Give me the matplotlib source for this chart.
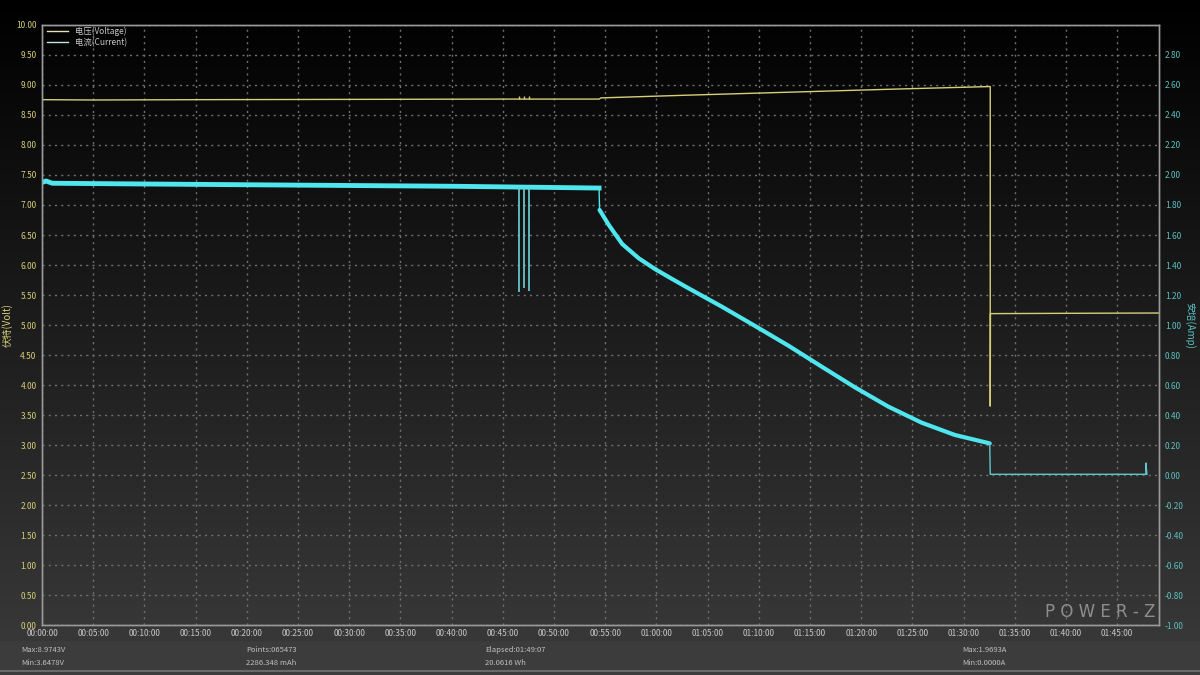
import numpy as np
import matplotlib
matplotlib.use('Agg')
import matplotlib.pyplot as plt
from matplotlib.ticker import FuncFormatter

plt.rcParams['font.family'] = ['Noto Sans CJK SC', 'DejaVu Sans']

# time axis in minutes
# voltage trace (V)
volt_t = [0, 5, 15, 30, 45, 54.4, 54.6, 63, 73, 83, 92.6, 92.6, 92.62, 100, 109.1]
volt_v = [8.755, 8.75, 8.755, 8.76, 8.765, 8.765, 8.785, 8.83, 8.88, 8.93, 8.974, 3.648, 5.19, 5.195, 5.2]
volt_spike_t = [46.6, 47.1, 47.6]
volt_spike_v = [8.81, 8.81, 8.81]

# current trace (A)
curr_t = [0, 0.4, 1, 10, 20, 30, 40, 54.4, 54.45, 55.35, 56.66, 58.29, 59.91, 61.53, 63.16,
          66.4, 69.65, 72.9, 76.15, 79.4, 82.65, 85.9, 89.15, 92.55]
curr_a = [1.95, 1.96, 1.945, 1.94, 1.935, 1.93, 1.925, 1.913, 1.767, 1.667, 1.54, 1.444,
          1.371, 1.307, 1.244, 1.122, 0.993, 0.862, 0.722, 0.584, 0.456, 0.349, 0.267, 0.211]
curr_spike_t = [46.6, 47.1, 47.6]
curr_spike_a = [1.22, 1.25, 1.23]
tail_t = [92.55, 92.6, 107.8, 107.8, 107.9]
tail_a = [0.211, 0.005, 0.005, 0.08, 0.005]

x_ticks = list(range(0, 110, 5))
stats = [
    (0.018, "Max:8.9743V", "Min:3.6478V"),
    (0.205, "Points:065473", "2286.348 mAh"),
    (0.404, "Elapsed:01:49:07", "20.0616 Wh"),
    (0.802, "Max:1.9693A", "Min:0.0000A"),
]

VOLT_C = '#d8cf78'
CURR_C = '#4fe6ee'
AMP_C = '#5cc0c0'
GRID_C = '#707070'


def fmt2(v, p):
    s = "%.2f" % v
    return "0.00" if s == "-0.00" else s


fig = plt.figure(figsize=(12, 6.75), dpi=100)

# background gradient
bg = fig.add_axes([0, 0, 1, 1], zorder=-10)
bg.axis('off')
grad = np.linspace(0.0, 0.215, 256).reshape(-1, 1)
bg.imshow(np.dstack([grad, grad, grad]), aspect='auto', extent=[0, 1, 0.07, 1.0])
bg.axhspan(0, 0.052, color='#3c3c3c')
bg.axhspan(0.052, 0.07, color='#373737')
bg.axhline(0.006, color='#6a6a6a', lw=1.5)
bg.set_xlim(0, 1)
bg.set_ylim(0, 1)

ax = fig.add_axes([0.035, 0.074, 0.931, 0.889])
ax.patch.set_alpha(0)
ax2 = ax.twinx()

ax.set_xlim(0, 109.1)
ax.set_ylim(0, 10)
ax2.set_ylim(-1, 3)

ax.set_xticks(x_ticks)
ax.xaxis.set_major_formatter(FuncFormatter(lambda v, p: "%02d:%02d:00" % (int(v) // 60, int(v) % 60)))
ax.set_yticks(np.arange(0, 10.01, 0.5))
ax.yaxis.set_major_formatter(FuncFormatter(fmt2))
ax2.set_yticks(np.arange(-1, 2.81, 0.2))
ax2.yaxis.set_major_formatter(FuncFormatter(fmt2))

ax.tick_params(axis='x', length=0, colors='#c8c8c8', labelsize=6, pad=3)
ax.tick_params(axis='y', length=0, colors=VOLT_C, labelsize=6, pad=4)
ax2.tick_params(axis='y', length=0, colors=AMP_C, labelsize=6, pad=4)

ax.grid(True, color=GRID_C, linestyle=(0, (1.5, 3)), linewidth=1)
for a in (ax, ax2):
    for s in a.spines.values():
        s.set_color('#9a9a9a')
        s.set_linewidth(1)

ax.set_ylabel("伏特(Volt)", color=VOLT_C, fontsize=7, labelpad=2)
ax2.set_ylabel("安培(Amp)", color=AMP_C, fontsize=7, rotation=-90, labelpad=8)

# data
ax.plot(volt_t, volt_v, color=VOLT_C, lw=1)
ax.vlines(volt_spike_t, 8.765, volt_spike_v, color=VOLT_C, lw=1)

ax2.plot(curr_t, curr_a, color=CURR_C, lw=1)
ax2.plot(curr_t[:8], curr_a[:8], color=CURR_C, lw=3.5, solid_joinstyle='round')
ax2.plot(curr_t[8:], curr_a[8:], color=CURR_C, lw=3.0, solid_joinstyle='round',
         solid_capstyle='round')
ax2.vlines(curr_spike_t, curr_spike_a, 1.92, color='#6fd0d8', lw=1.2)
ax2.plot(tail_t, tail_a, color='#5fc8d0', lw=1)
lc, = ax2.plot([], [], color='#b8e8e0', lw=1, label="电流(Current)")
lv_leg, = ax2.plot([], [], color='#e6e0b8', lw=1, label="电压(Voltage)")

leg = ax2.legend(handles=[lv_leg, lc], loc='upper left', frameon=False, fontsize=6,
                 handlelength=2.5, borderaxespad=0.2, labelspacing=0.2, bbox_to_anchor=(0.0, 1.005))
for t in leg.get_texts():
    t.set_color('#c8c8c8')

# logo
fig.text(0.963, 0.0795, "P O W E R - Z", ha='right', va='bottom', fontsize=12, color='#8e8e8e',
         family='DejaVu Sans')

# stats footer
for x, top, bottom in stats:
    fig.text(x, 0.037, top, fontsize=5.5, color='#c0c0c0', va='center')
    fig.text(x, 0.018, bottom, fontsize=5.5, color='#c0c0c0', va='center')

fig.savefig('out.png', dpi=100)
